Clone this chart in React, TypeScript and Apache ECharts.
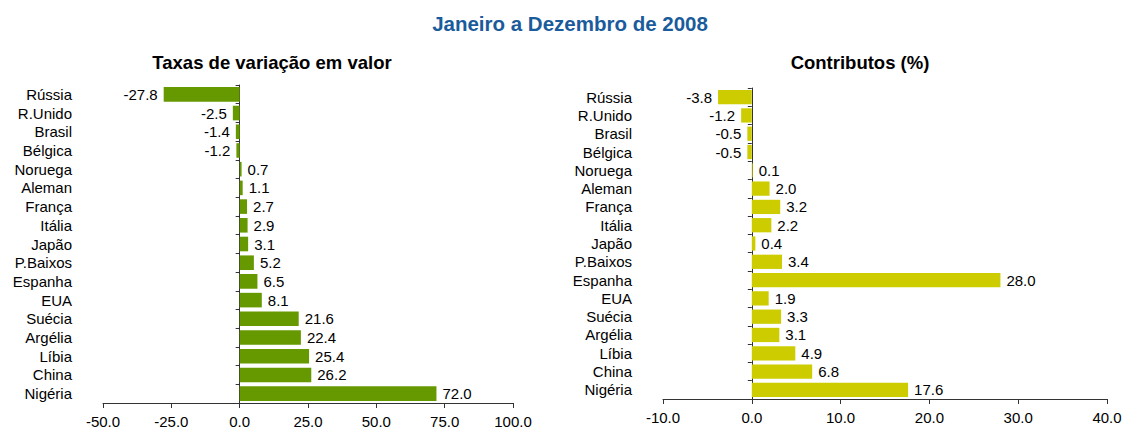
import React, { useEffect, useRef } from "react";
import * as echarts from "echarts";

const categories = ["Rússia", "R.Unido", "Brasil", "Bélgica", "Noruega", "Aleman", "França", "Itália", "Japão", "P.Baixos", "Espanha", "EUA", "Suécia", "Argélia", "Líbia", "China", "Nigéria"];
const taxas = [-27.8, -2.5, -1.4, -1.2, 0.7, 1.1, 2.7, 2.9, 3.1, 5.2, 6.5, 8.1, 21.6, 22.4, 25.4, 26.2, 72.0];
const contributos = [-3.8, -1.2, -0.5, -0.5, 0.1, 2.0, 3.2, 2.2, 0.4, 3.4, 28.0, 1.9, 3.3, 3.1, 4.9, 6.8, 17.6];

const FONT = "'Liberation Sans', Arial, sans-serif";

export default function App() {
  const ref = useRef<HTMLDivElement>(null);
  useEffect(() => {
    if (!ref.current) return;
    const chart = echarts.init(ref.current, null, { renderer: "svg" });
    const mkData = (arr: number[]) =>
      arr.map((v) => ({ value: v, label: { position: v < 0 ? "left" : "right" } }));
    const catAxes = (gi: number) => [
      {
        type: "category", gridIndex: gi, data: categories, inverse: true,
        axisLine: { show: true, onZero: true, lineStyle: { color: "#333", width: 1 } },
        axisTick: { show: true, length: 4, interval: 0, lineStyle: { color: "#333" } },
        axisLabel: { show: false },
      },
      {
        type: "category", gridIndex: gi, data: categories, inverse: true, position: "left",
        axisLine: { show: false, onZero: false }, axisTick: { show: false },
        axisLabel: { show: true, interval: 0, margin: 31, color: "#000", fontSize: 15, fontFamily: FONT },
      },
    ];
    const valAxis = (gi: number, min: number, max: number, interval: number) => ({
      type: "value", gridIndex: gi, min, max, interval,
      splitLine: { show: false },
      axisLine: { show: true, lineStyle: { color: "#333", width: 1 } },
      axisTick: { show: true, length: 5, lineStyle: { color: "#333" } },
      axisLabel: { color: "#000", fontSize: 15, fontFamily: FONT, margin: 11, formatter: (v: number) => v.toFixed(1) },
    });
    const labelStyle = { show: true, color: "#000", fontSize: 15, fontFamily: FONT, distance: 6, formatter: (p: any) => Number(p.value).toFixed(1) };
    chart.setOption({
      animation: false,
      title: [
        { text: "Janeiro a Dezembro de 2008", left: 565, top: 8, textAlign: "center", textStyle: { color: "#1A5B9C", fontSize: 20.5, fontWeight: "bold", fontFamily: FONT } },
        { text: "Taxas de variação em valor", left: 267, top: 48, textAlign: "center", textStyle: { color: "#000", fontSize: 18.5, fontWeight: "bold", fontFamily: FONT } },
        { text: "Contributos (%)", left: 855, top: 48, textAlign: "center", textStyle: { color: "#000", fontSize: 18.5, fontWeight: "bold", fontFamily: FONT } },
      ],
      grid: [
        { left: 103, width: 410, top: 85, height: 318 },
        { left: 663, width: 444, top: 88, height: 311 },
      ],
      xAxis: [valAxis(0, -50, 100, 25), valAxis(1, -10, 40, 10)],
      yAxis: [...catAxes(0), ...catAxes(1)],
      series: [
        { type: "bar", xAxisIndex: 0, yAxisIndex: 0, data: mkData(taxas), barCategoryGap: "22%", itemStyle: { color: "#669900" }, label: labelStyle },
        { type: "bar", xAxisIndex: 1, yAxisIndex: 2, data: mkData(contributos), barCategoryGap: "22%", itemStyle: { color: "#CCCC00" }, label: labelStyle },
      ],
    });
    return () => chart.dispose();
  }, []);
  return <div ref={ref} style={{ position: "absolute", left: 0, top: 0, width: 1128, height: 433 }} />;
}
